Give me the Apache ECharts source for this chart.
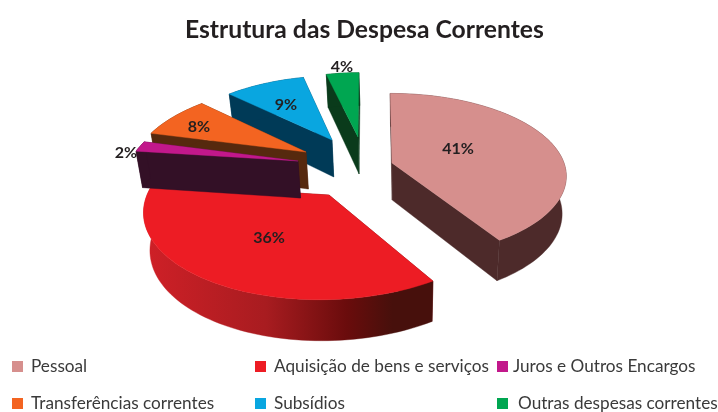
<!DOCTYPE html>
<html><head><meta charset="utf-8">
<style>html,body{margin:0;padding:0;background:#fff}#c{width:718px;height:412px}</style>
<script src="https://cdn.jsdelivr.net/npm/echarts@6/dist/echarts.min.js"></script>
</head><body><div id="c"></div>
<script>
const titleText = 'Estrutura das Despesa Correntes';
const categories = ['Pessoal','Aquisição de bens e serviços','Juros e Outros Encargos','Transferências correntes','Subsídios','Outras despesas correntes'];
const values = [41,36,2,8,9,4];
const topColors = ['#d68f8d','#ed1c24','#c2188b','#f36421','#09a6e0','#00a651'];
const wallColors = ['#4d2a2a','#6a0c0c','#331026','#56290e','#003a57','#0a3b1b'];
// exploded-slice layout: apex, radius, vertical radius, skew, label offset from apex, paint order
const layouts = [
  {ax:392,ay:163,R:172,Rk:80,sh:2,lx:66,ly:-14,z:3},
  {ax:329,ay:195,R:182,Rk:89,sh:-8,lx:-60,ly:43,z:4},
  {ax:298,ay:161,R:168,Rk:80,sh:-13,lx:-172,ly:-8,z:6},
  {ax:306,ay:152,R:169,Rk:78,sh:-12,lx:-107,ly:-25,z:5},
  {ax:332,ay:140,R:163,Rk:74,sh:-8,lx:-46,ly:-35,z:2},
  {ax:358,ay:137,R:150,Rk:74,sh:-1,lx:-16,ly:-70,z:1}
];
const legendPos = [[12,358,3],[255,358,3],[497,358,0],[12,395,3],[255,395,3],[497,395,5]];
const perspective = 0.15, vanishX = 400, baseScale = 0.975;
const total = values.reduce((a,b)=>a+b,0);

function topPoint(L, th){
  const u = Math.sin(th), v = -Math.cos(th), s = 1/(1-perspective*v);
  return {x:L.ax+(L.R*u+L.sh*v)*s, y:L.ay+L.Rk*v*s, v};
}
function basePoint(p){
  return {x:vanishX+(p.x-vanishX)*baseScale, y:p.y+37+4*p.v};
}
const xy = p => [p.x,p.y];

function makeRender(idx){
  return function(params, api){
    const L = layouts[idx];
    let before = 0;
    for(let i=0;i<idx;i++) before += values[i];
    const val = api.value(0);
    const a0 = before/total*2*Math.PI, a1 = (before+val)/total*2*Math.PI;
    const steps = Math.max(6, Math.round(val*2));
    const arc = [];
    for(let i=0;i<=steps;i++) arc.push(topPoint(L, a0+(a1-a0)*i/steps));
    const apex = {x:L.ax,y:L.ay,v:0};
    const wall = wallColors[idx];
    let arcFill = wall;
    if(idx===1){
      arcFill = new echarts.graphic.LinearGradient(145,0,433,0,[
        {offset:0,color:'#cf2027'},{offset:0.42,color:'#a81c20'},
        {offset:0.7,color:'#6a0c0c'},{offset:0.86,color:'#47100c'},{offset:1,color:'#47100c'}],true);
    }
    const poly = (pts,fill)=>({type:'polygon',shape:{points:pts.map(xy)},style:{fill,stroke:fill,lineWidth:0.4}});
    const quad = (a,b)=>poly([a,b,basePoint(b),basePoint(a)],wall);
    const children = [
      quad(apex,arc[arc.length-1]),
      quad(apex,arc[0]),
      poly(arc.concat(arc.map(basePoint).reverse()),arcFill),
      poly([apex].concat(arc),topColors[idx]),
      {type:'text',style:{x:L.ax+L.lx,y:L.ay+L.ly,text:val+'%',fill:'#231f20',
        font:'bold 16px Lato',align:'center',verticalAlign:'middle'}}
    ];
    return {type:'group',children};
  };
}

const chart = echarts.init(document.getElementById('c'),null,{renderer:'canvas'});
chart.setOption({
  animation:false,
  backgroundColor:'#fff',
  title:{text:titleText,left:180,top:13,itemGap:0,
    textStyle:{fontFamily:'Lato',fontWeight:'bold',fontSize:24.7,color:'#231f20'}},
  legend:categories.map((c,i)=>({
    data:[c],left:legendPos[i][0],top:legendPos[i][1],icon:'rect',itemWidth:11,itemHeight:11,
    selectedMode:false,padding:0,
    textStyle:{fontFamily:'Lato',fontSize:17.2,color:'#3a3a3a',padding:[0,0,0,legendPos[i][2]]}
  })),
  series:categories.map((c,i)=>({
    type:'custom',name:c,coordinateSystem:'none',z:layouts[i].z,silent:true,
    itemStyle:{color:topColors[i]},
    data:[[values[i]]],
    renderItem:makeRender(i)
  }))
});
</script></body></html>
